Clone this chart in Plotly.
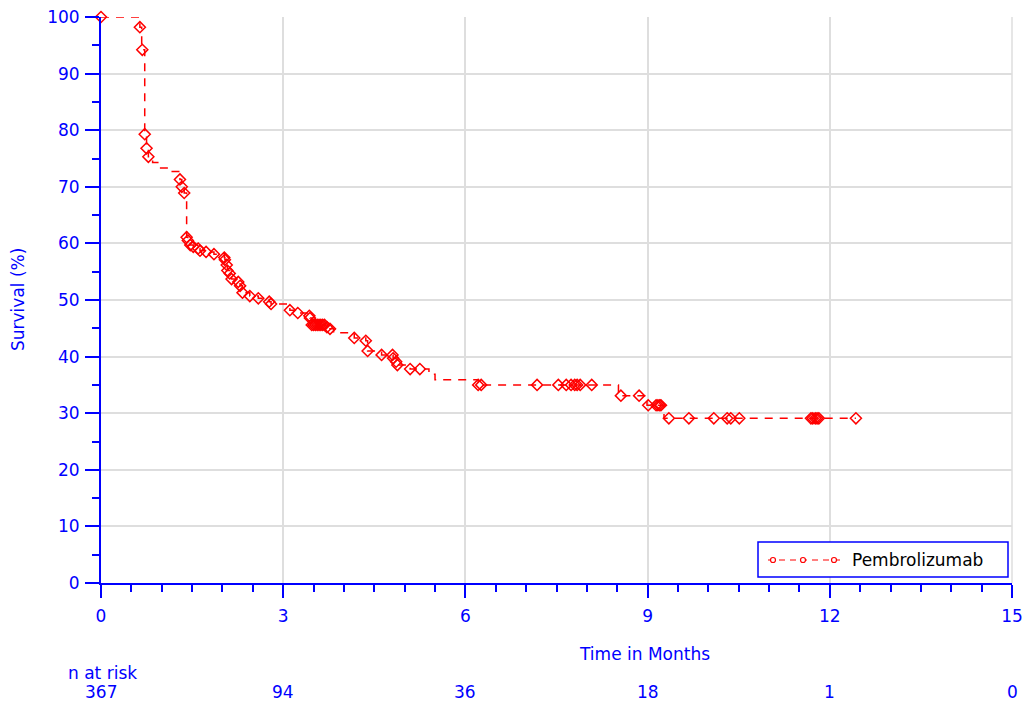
import plotly.graph_objects as go

# ---- data ----
step_t = [0, 0.64, 0.67, 0.72, 0.75, 0.78, 0.85, 0.95, 1.15, 1.30, 1.33, 1.37, 1.41,
          1.43, 1.47, 1.52, 1.60, 1.63, 1.73, 1.86, 2.03, 2.04, 2.07, 2.08, 2.12, 2.15,
          2.26, 2.29, 2.33, 2.45, 2.59, 2.77, 2.80, 3.11, 3.24, 3.41, 3.44, 3.47, 3.72,
          3.77, 3.83, 4.17, 4.36, 4.39, 4.62, 4.81, 4.86, 4.88, 5.09, 5.40, 5.50, 6.21,
          8.52, 8.99, 9.27, 12.43]
step_s = [100, 98.2, 94.2, 79.3, 76.8, 75.3, 74.3, 73.3, 72.7, 71.3, 70.0, 68.9, 61.1,
          60.5, 59.7, 59.4, 59.1, 58.7, 58.5, 58.1, 57.5, 57.1, 56.2, 55.2, 54.7, 53.7,
          53.2, 52.5, 51.3, 50.7, 50.3, 49.7, 49.3, 48.2, 47.7, 47.2, 46.8, 45.6, 45.2,
          44.9, 44.2, 43.3, 42.8, 41.0, 40.3, 39.7, 39.1, 38.5, 37.8, 36.9, 35.9, 35.0,
          33.1, 31.4, 29.1, 29.1]

mark_t = [0, 0.64, 0.68, 0.72, 0.75, 0.78, 1.30, 1.33, 1.37, 1.41, 1.43, 1.47, 1.52,
          1.60, 1.63, 1.73, 1.86, 2.03, 2.04, 2.07, 2.08, 2.12, 2.15, 2.26, 2.29, 2.33,
          2.45, 2.59, 2.77, 2.80, 3.11, 3.24, 3.43, 3.44, 3.47, 3.50, 3.53, 3.56, 3.59,
          3.62, 3.65, 3.68, 3.72, 3.77, 4.17, 4.36, 4.39, 4.62, 4.80, 4.81, 4.86, 4.88,
          5.09, 5.25, 6.21, 6.26, 7.18, 7.53, 7.66, 7.74, 7.80, 7.84, 7.89, 8.08, 8.56,
          8.86, 9.01, 9.14, 9.17, 9.20, 9.22, 9.35, 9.68, 10.09, 10.31, 10.37, 10.51,
          11.69, 11.72, 11.76, 11.79, 11.82, 12.43]
mark_s = [100, 98.2, 94.2, 79.3, 76.8, 75.3, 71.3, 70.0, 68.9, 61.1, 60.5, 59.7, 59.4,
          59.1, 58.7, 58.5, 58.1, 57.5, 57.1, 56.2, 55.2, 54.7, 53.7, 53.2, 52.5, 51.3,
          50.7, 50.3, 49.7, 49.3, 48.2, 47.7, 47.2, 46.8, 45.6, 45.6, 45.6, 45.6, 45.6,
          45.6, 45.6, 45.6, 45.2, 44.9, 43.3, 42.8, 41.0, 40.3, 40.3, 39.7, 39.1, 38.5,
          37.8, 37.8, 35.0, 35.0, 35.0, 35.0, 35.0, 35.0, 35.0, 35.0, 35.0, 35.0, 33.1,
          33.1, 31.4, 31.4, 31.4, 31.4, 31.4, 29.1, 29.1, 29.1, 29.1, 29.1, 29.1,
          29.1, 29.1, 29.1, 29.1, 29.1, 29.1]

risk_times = [0, 3, 6, 9, 12, 15]
risk_counts = ["367", "94", "36", "18", "1", "0"]
x_ticks = [0, 3, 6, 9, 12, 15]
series_name = "Pembrolizumab"

BLUE = "#0000FF"
RED = "#FF0000"
FONT = "DejaVu Sans"

# plot area in pixels (for decoration placement)
L, R, T, B = 101, 1012, 17, 583
def px(xp):
    return (xp - L) / (R - L)
def py(yp):
    return (B - yp) / (B - T)

fig = go.Figure()
fig.add_trace(go.Scatter(
    x=step_t, y=step_s, mode="lines", line_shape="hv",
    line=dict(color=RED, width=1.5, dash="8px,7px"),
    showlegend=False, hoverinfo="skip", cliponaxis=False))
fig.add_trace(go.Scatter(
    x=mark_t, y=mark_s, mode="markers",
    marker=dict(symbol="diamond-open", size=8.5, color=RED, line=dict(width=1.5, color=RED)),
    showlegend=False, cliponaxis=False, name=series_name))

fig.update_xaxes(
    range=[0, 15], tickvals=x_ticks, ticks="outside", ticklen=13, tickwidth=2,
    tickcolor=BLUE, showline=True, linecolor=BLUE, linewidth=2, zeroline=False,
    showgrid=True, gridcolor="#dedede", gridwidth=1.5,
    tickfont=dict(family=FONT, size=17, color=BLUE), ticklabelstandoff=4,
    minor=dict(dtick=0.5, ticks="outside", ticklen=7, tickwidth=2, tickcolor=BLUE, showgrid=False),
    automargin=False)
fig.update_yaxes(
    range=[0, 100], dtick=10, ticks="outside", ticklen=14, tickwidth=2,
    tickcolor=BLUE, showline=True, linecolor=BLUE, linewidth=2, zeroline=False,
    showgrid=True, gridcolor="#dedede", gridwidth=1.5,
    tickfont=dict(family=FONT, size=17, color=BLUE), ticklabelstandoff=2,
    minor=dict(dtick=5, ticks="outside", ticklen=7, tickwidth=2, tickcolor=BLUE, showgrid=False),
    automargin=False)

annotations = [
    dict(text="Time in Months", x=px(644), y=py(654), xref="paper", yref="paper",
         showarrow=False, xanchor="center", yanchor="middle",
         font=dict(family=FONT, size=17, color=BLUE)),
    dict(text="Survival (%)", x=px(18), y=0.5, xref="paper", yref="paper",
         showarrow=False, textangle=-90, xanchor="center", yanchor="middle",
         font=dict(family=FONT, size=17, color=BLUE)),
    dict(text="n at risk", x=px(102), y=py(673), xref="paper", yref="paper",
         showarrow=False, xanchor="center", yanchor="middle",
         font=dict(family=FONT, size=17, color=BLUE)),
    dict(text=series_name, x=px(850), y=py(560), xref="paper", yref="paper",
         showarrow=False, xanchor="left", yanchor="middle",
         font=dict(family=FONT, size=17, color="black")),
]
for t, c in zip(risk_times, risk_counts):
    annotations.append(dict(text=c, x=t, y=py(692), xref="x", yref="paper",
                            showarrow=False, xanchor="center", yanchor="middle",
                            font=dict(family=FONT, size=17, color=BLUE)))

shapes = [
    dict(type="line", xref="paper", yref="paper", x0=1, x1=1, y0=0, y1=1,
         line=dict(color="#dedede", width=1.5), layer="below"),
    dict(type="rect", xref="paper", yref="paper", x0=px(758), x1=px(1008),
         y0=py(577), y1=py(542), line=dict(color=BLUE, width=1.5), fillcolor="white",
         layer="above"),
    dict(type="line", xref="paper", yref="paper", x0=px(768), x1=px(840),
         y0=py(560), y1=py(560), line=dict(color=RED, width=1.2, dash="6px,5px"),
         layer="above"),
]
for cx in (773, 803, 834):
    shapes.append(dict(type="circle", xref="paper", yref="paper",
                       x0=px(cx - 2.5), x1=px(cx + 2.5), y0=py(562.5), y1=py(557.5),
                       line=dict(color=RED, width=1.2), fillcolor="white", layer="above"))

fig.update_layout(
    width=1024, height=702,
    margin=dict(l=L, r=1024 - R, t=T, b=702 - B, pad=0),
    plot_bgcolor="white", paper_bgcolor="white",
    showlegend=False,
    annotations=annotations, shapes=shapes,
    font=dict(family=FONT, size=17, color=BLUE),
)

fig.write_html("out.html", config={"displayModeBar": False},
               post_script="document.body.style.margin='0px';document.body.style.overflow='hidden';")
